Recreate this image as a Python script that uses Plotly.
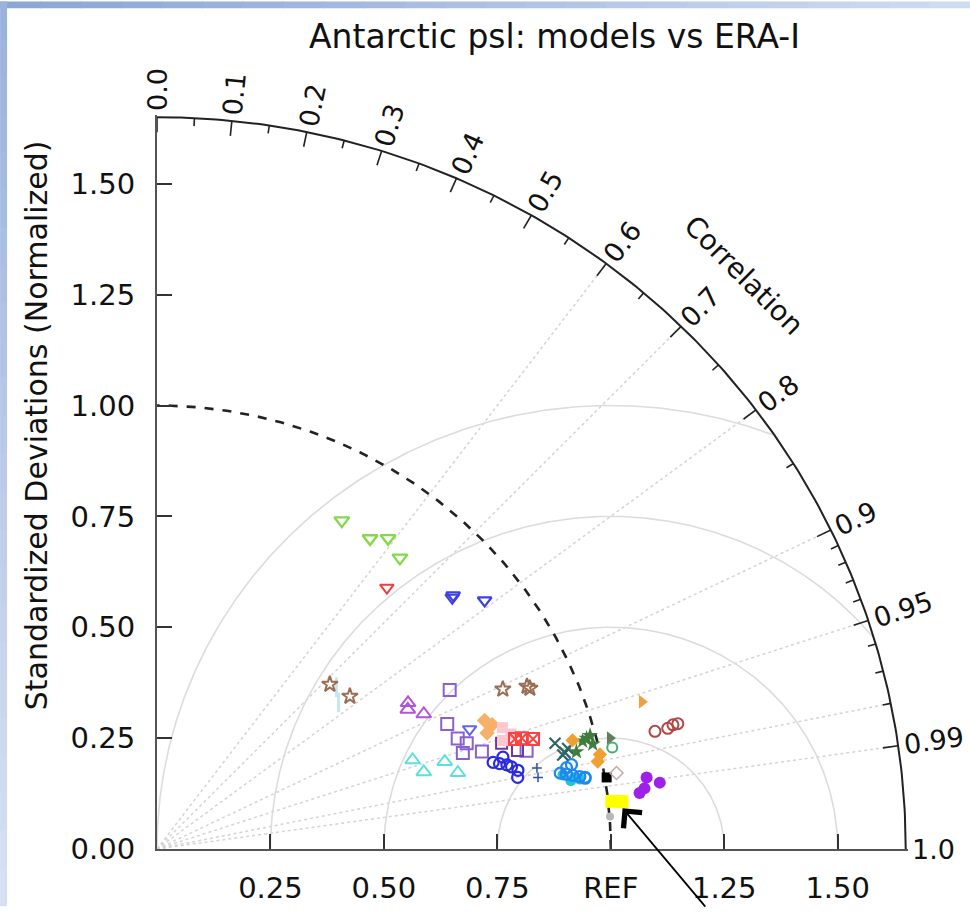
import numpy as np
import plotly.graph_objects as go

# ---------------- data: normalized standard deviation & correlation ----------------
green_tri_std = [0.845, 0.843, 0.866, 0.847]
green_tri_cor = [0.482, 0.557, 0.588, 0.632]
red_tri_std = [0.777]
red_tri_cor = [0.652]
blue_tri_std = [0.863, 0.868, 0.914]
blue_tri_cor = [0.754, 0.752, 0.790]
bv_tri_std = [0.740]
bv_tri_cor = [0.931]
brown_star_std = [0.532, 0.547, 0.843, 0.894, 0.898]
brown_star_cor = [0.716, 0.777, 0.904, 0.912, 0.915]
lblue_std = [0.538, 0.519]
lblue_cor = [0.735, 0.771]
purple_utri_std = [0.644, 0.636, 0.662]
purple_utri_cor = [0.859, 0.869, 0.888]
cyan_utri_std = [0.598, 0.613, 0.664, 0.685]
cyan_utri_cor = [0.942, 0.959, 0.955, 0.968]
purple_sq_std = [0.738, 0.699, 0.708, 0.723, 0.708, 0.749, 0.844]
purple_sq_cor = [0.874, 0.915, 0.936, 0.944, 0.952, 0.956, 0.965]
dpurple_sq_std = [0.796, 0.825]
dpurple_sq_cor = [0.954, 0.963]
sandy_std = [0.778, 0.773, 0.790]
sandy_cor = [0.928, 0.941, 0.935]
pink_std = [0.809, 0.822, 0.800]
pink_cor = [0.941, 0.949, 0.952]
red_sq_std = [0.827, 0.842, 0.865]
red_sq_cor = [0.954, 0.955, 0.958]
blue_circ_std = [0.766, 0.779, 0.794, 0.803, 0.811, 0.815, 0.790]
blue_circ_cor = [0.967, 0.969, 0.971, 0.973, 0.980, 0.976, 0.965]
small_std = [0.857, 0.855]
small_cor = [0.977, 0.982]
teal_x_std = [0.909, 0.925, 0.919, 0.933]
teal_x_cor = [0.965, 0.972, 0.973, 0.970]
dgreen_star_std = [0.969, 0.988, 0.989, 0.979, 0.950]
dgreen_star_cor = [0.968, 0.966, 0.971, 0.967, 0.973]
orange_std = [0.948, 0.999, 0.991]
orange_cor = [0.966, 0.977, 0.980]
orange_rtri_std = [1.119]
orange_rtri_cor = [0.955]
olive_rtri_std = [1.029]
olive_rtri_cor = [0.970]
green_ocirc_std = [1.029]
green_ocirc_cor = [0.975]
cyan_circ_std = [0.910, 0.934, 0.925, 0.945]
cyan_circ_cor = [0.983, 0.985, 0.986, 0.986]
dodger_std = [0.905, 0.918, 0.931, 0.946, 0.957, 0.921, 0.933, 0.957]
dodger_cor = [0.982, 0.983, 0.984, 0.985, 0.986, 0.980, 0.979, 0.9856]
black_std = [1.004]
black_cor = [0.987]
gray_dia_std = [1.027]
gray_dia_cor = [0.986]
violet_std = [1.091, 1.118, 1.083, 1.071]
violet_cor = [0.989, 0.991, 0.992, 0.993]
brown_circ_std = [1.129, 1.158, 1.171, 1.182]
brown_circ_cor = [0.972, 0.972, 0.971, 0.971]
yellow_std = [1.008, 1.030]
yellow_cor = [0.9943, 0.9946]
gray_dot_std = [1.001]
gray_dot_cor = [0.9973]

x_tick_vals = [0.25, 0.5, 0.75, 1.0, 1.25, 1.5]
x_tick_text = ["0.25", "0.50", "0.75", "REF", "1.25", "1.50"]
y_tick_vals = [0.0, 0.25, 0.5, 0.75, 1.0, 1.25, 1.5]
y_tick_text = ["0.00", "0.25", "0.50", "0.75", "1.00", "1.25", "1.50"]
corr_major = [0.0, 0.1, 0.2, 0.3, 0.4, 0.5, 0.6, 0.7, 0.8, 0.9, 0.95, 0.99, 1.0]
corr_major_text = ["0.0", "0.1", "0.2", "0.3", "0.4", "0.5", "0.6", "0.7", "0.8", "0.9", "0.95", "0.99", "1.0"]
corr_minor = [0.05, 0.15, 0.25, 0.35, 0.45, 0.55, 0.65, 0.75, 0.85,
              0.91, 0.92, 0.93, 0.94, 0.96, 0.97, 0.98]
corr_rays = [0.6, 0.7, 0.8, 0.9, 0.95, 0.98, 0.99]
rms_radii = [0.25, 0.5, 0.75, 1.0]
RMAX = 1.65

FONT = "DejaVu Sans"
CFS = 27  # correlation label font size

# ---------------- layout geometry ----------------
W, H = 970, 917
ML, MB = 157, 57
PX_X, PX_Y = 454.0, 450.0
XR = 1.655
PW = XR * PX_X
PH = XR * PX_Y
MR = W - ML - PW
MT = H - MB - PH


def px2paper(px, py):
    return (px - ML) / PW, (H - MB - py) / PH


def to_xy(std, cor):
    s = np.asarray(std, float)
    c = np.asarray(cor, float)
    return s * c, s * np.sqrt(1 - c ** 2)


fig = go.Figure()


def add_line(x, y, color, width, dash="solid"):
    fig.add_trace(go.Scatter(x=x, y=y, mode="lines", hoverinfo="skip",
                             line=dict(color=color, width=width, dash=dash),
                             showlegend=False))


# correlation rays (dotted)
for c in corr_rays:
    add_line([0, RMAX * c], [0, RMAX * np.sqrt(1 - c ** 2)], "#d4d4d4", 1.5, "dot")

# centered RMS arcs around REF
for R in rms_radii:
    t = np.linspace(0, np.pi, 600)
    x = 1 + R * np.cos(t)
    y = R * np.sin(t)
    ok = (x >= 0) & (x ** 2 + y ** 2 <= RMAX ** 2)
    xs = np.where(ok, x, np.nan)
    ys = np.where(ok, y, np.nan)
    add_line(xs, ys, "#dcdcdc", 1.6)

# dashed reference arc r = 1
t = np.linspace(0, np.pi / 2, 200)
add_line(np.cos(t), np.sin(t), "#222222", 2.6, "dash")

# outer correlation arc
add_line(RMAX * np.cos(t), RMAX * np.sin(t), "#222222", 2.0)

# correlation ticks
tx, ty = [], []
for c in corr_major[:-1]:
    s = np.sqrt(1 - c ** 2)
    tx += [RMAX * c, (RMAX - 0.034) * c, None]
    ty += [RMAX * s, (RMAX - 0.034) * s, None]
for c in corr_minor:
    s = np.sqrt(1 - c ** 2)
    tx += [RMAX * c, (RMAX - 0.018) * c, None]
    ty += [RMAX * s, (RMAX - 0.018) * s, None]
add_line(tx, ty, "#222222", 1.6)

# ---------------- model markers ----------------
series = [
    (green_tri_std, green_tri_cor, "triangle-down-open", "#86d84c", 13, 2.4),
    (red_tri_std, red_tri_cor, "triangle-down-open", "#f03c3c", 12, 2.0),
    (blue_tri_std, blue_tri_cor, "triangle-down-open", "#4040e0", 12, 2.2),
    (bv_tri_std, bv_tri_cor, "triangle-down-open", "#6464e8", 12, 2.0),
    (lblue_std, lblue_cor, "line-ns", "#c4e8f2", 14, 3.0),
    (brown_star_std, brown_star_cor, "star-open", "#9a6e52", 12, 2.0),
    (purple_utri_std, purple_utri_cor, "triangle-up-open", "#b054d8", 13, 2.0),
    (cyan_utri_std, cyan_utri_cor, "triangle-up-open", "#5ae0e0", 13, 2.0),
    (purple_sq_std, purple_sq_cor, "square-open", "#8a60d0", 12, 2.0),
    (dpurple_sq_std, dpurple_sq_cor, "square-open", "#6a3aa0", 11, 2.0),
    (sandy_std, sandy_cor, "diamond", "#f6b06a", 12, 0),
    (pink_std, pink_cor, "square", "#ffc8d0", 11, 0),
    (red_sq_std, red_sq_cor, "square-x-open", "#ff4040", 12, 2.0),
    (blue_circ_std, blue_circ_cor, "circle-open", "#2a2ae0", 11, 2.2),
    (small_std, small_cor, "cross-thin-open", "#3050a0", 7, 1.5),
    (cyan_circ_std, cyan_circ_cor, "circle", "#22c4d4", 11, 0),
    (dodger_std, dodger_cor, "circle-open", "#1e88f0", 11, 2.2),
    (teal_x_std, teal_x_cor, "x-thin-open", "#2f6464", 11, 2.2),
    (dgreen_star_std, dgreen_star_cor, "star", "#3d7d3d", 12, 0),
    (orange_std, orange_cor, "diamond", "#f0a030", 11, 0),
    (orange_rtri_std, orange_rtri_cor, "triangle-right", "#f0a040", 12, 0),
    (olive_rtri_std, olive_rtri_cor, "triangle-right", "#5f7f5f", 12, 0),
    (green_ocirc_std, green_ocirc_cor, "circle-open", "#40b070", 10, 2.0),
    (black_std, black_cor, "square", "#000000", 10, 0),
    (gray_dia_std, gray_dia_cor, "diamond-open", "#c8a8a8", 10, 1.5),
    (violet_std, violet_cor, "circle", "#9b22e6", 12, 0),
    (brown_circ_std, brown_circ_cor, "circle-open", "#b04848", 11, 2.0),
    (yellow_std, yellow_cor, "square", "#ffff00", 13, 0),
    (gray_dot_std, gray_dot_cor, "circle", "#b8b8b8", 8, 0),
]

for std, cor, sym, col, size, lw in series:
    x, y = to_xy(std, cor)
    marker = dict(symbol=sym, size=size, color=col)
    if lw:
        marker["line"] = dict(color=col, width=lw)
    fig.add_trace(go.Scatter(x=x, y=y, mode="markers", marker=marker,
                             hoverinfo="skip", showlegend=False, cliponaxis=False))

# ---------------- annotations (paper coords so they can sit outside the axes) ----------------
ann = []
for c, txt in zip(corr_major, corr_major_text):
    th = np.degrees(np.arccos(c))
    wpx = (0.636 * (len(txt) - 1) + 0.318) * CFS
    r = RMAX + 0.014 + (wpx / 2) / PX_X
    ann.append(dict(x=r * c / XR, y=r * np.sqrt(1 - c ** 2) / XR, xref="paper", yref="paper",
                    text=txt, showarrow=False, textangle=-th if th > 0.01 else 0,
                    font=dict(family=FONT, size=CFS, color="#111111"),
                    xanchor="center", yanchor="middle"))
ann.append(dict(x=1.83 * np.cos(np.pi / 4) / XR, y=1.83 * np.sin(np.pi / 4) / XR,
                xref="paper", yref="paper",
                text="Correlation", showarrow=False, textangle=45,
                font=dict(family=FONT, size=28, color="#111111"),
                xanchor="center", yanchor="middle"))
# title
tx_, ty_ = px2paper(555, 36)
ann.append(dict(x=tx_, y=ty_, xref="paper", yref="paper", text="Antarctic psl: models vs ERA-I",
                showarrow=False, font=dict(family=FONT, size=33, color="#111111"),
                xanchor="center", yanchor="middle"))
# y axis title
yx_, yy_ = px2paper(36, 430)
ann.append(dict(x=yx_, y=yy_, xref="paper", yref="paper",
                text="Standardized Deviations (Normalized)", showarrow=False, textangle=-90,
                font=dict(family=FONT, size=30, color="#111111"),
                xanchor="center", yanchor="middle"))
# arrow pointing at the yellow marker
ann.append(dict(x=1.026, y=0.092, xref="x", yref="y", text="", showarrow=True,
                ax=84, ay=100, axref="pixel", ayref="pixel",
                arrowhead=4, arrowsize=2.6, arrowwidth=1.8, arrowcolor="#000000",
                standoff=0))

# ---------------- background frame (slide edge) ----------------
shapes = []
n = 24
c0 = np.array([0x8c, 0xa6, 0xd8])
c1 = np.array([0xcf, 0xdb, 0xf1])
for i in range(n):
    f = i / (n - 1)
    col = c0 * (1 - f) + c1 * f
    colstr = "rgb(%d,%d,%d)" % tuple(col.astype(int))
    x0, y0 = px2paper(W * i / n, 0)
    x1, y1 = px2paper(W * (i + 1) / n + 1, 7)
    shapes.append(dict(type="rect", xref="paper", yref="paper", x0=x0, x1=x1, y0=y1, y1=y0,
                       fillcolor=colstr, line=dict(width=0), layer="below"))
    col2 = np.array([0x9c, 0xb2, 0xde]) * (1 - f) + np.array([0xd6, 0xe0, 0xf3]) * f
    colstr2 = "rgb(%d,%d,%d)" % tuple(col2.astype(int))
    xa, ya = px2paper(0, H * i / n)
    xb, yb = px2paper(7, H * (i + 1) / n + 1)
    shapes.append(dict(type="rect", xref="paper", yref="paper", x0=xa, x1=xb, y0=yb, y1=ya,
                       fillcolor=colstr2, line=dict(width=0), layer="below"))

fig.update_layout(
    width=W, height=H,
    margin=dict(l=ML, r=MR, t=MT, b=MB, pad=0),
    paper_bgcolor="white", plot_bgcolor="white",
    annotations=ann, shapes=shapes,
    xaxis=dict(range=[0, XR], tickmode="array", tickvals=x_tick_vals, ticktext=x_tick_text,
               ticks="inside", ticklen=15, tickwidth=1.6, tickcolor="#333333",
               showline=True, linecolor="#555555", linewidth=1.6,
               showgrid=False, zeroline=False, ticklabelstandoff=12,
               tickfont=dict(family=FONT, size=29, color="#111111")),
    yaxis=dict(range=[0, XR], tickmode="array", tickvals=y_tick_vals, ticktext=y_tick_text,
               ticks="inside", ticklen=15, tickwidth=1.6, tickcolor="#333333",
               showline=True, linecolor="#555555", linewidth=2.0,
               showgrid=False, zeroline=False, ticklabelstandoff=14,
               tickfont=dict(family=FONT, size=29, color="#111111")),
)

fig.write_html("out.html")
